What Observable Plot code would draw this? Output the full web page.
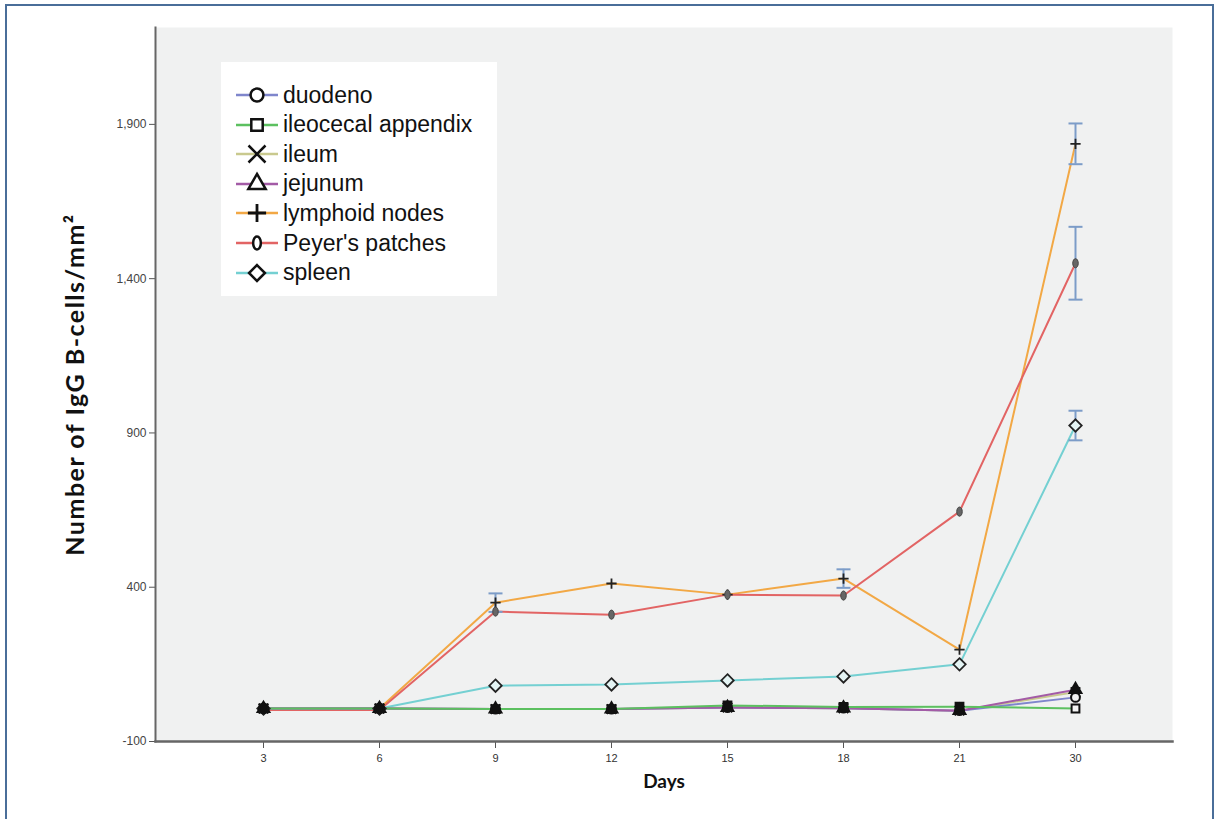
<!DOCTYPE html>
<html>
<head>
<meta charset="utf-8">
<script src="https://cdn.jsdelivr.net/npm/d3@7"></script>
<script src="https://cdn.jsdelivr.net/npm/@observablehq/plot@0.6"></script>
<style>
  html, body { margin: 0; padding: 0; background: #fff; }
  #wrap { position: relative; width: 1220px; height: 819px; overflow: hidden; }
  #border { position: absolute; left: 5px; top: 4px; width: 1209px; height: 830px; border: 2px solid #4a6e99; box-sizing: border-box; }
  #legend { position: absolute; left: 221px; top: 62px; width: 276px; height: 234px; background: #fff; }
  #legend .row { position: absolute; left: 0; height: 30px; display: flex; align-items: center; }
  #legend svg { display: block; }
  #legend span { font-family: "Liberation Sans", Arial, sans-serif; font-size: 23px; color: #111; margin-left: 3px; }
</style>
</head>
<body>
<div id="wrap">
  <div id="chart"></div>
  <div id="legend"></div>
  <div id="border"></div>
</div>
<script>
// ---- data ----
const days = ["3", "6", "9", "12", "15", "18", "21", "30"];
const seriesNames = ["duodeno", "ileocecal appendix", "ileum", "jejunum", "lymphoid nodes", "Peyer's patches", "spleen"];
const seriesColors = ["#7f86cc", "#5cc060", "#c9c98e", "#a35ba6", "#f2a845", "#e26464", "#74d0d2"];
const duodeno    = [7, 7, 5, 5, 10, 8, 0, 43];
const ileocecal  = [7, 7, 5, 5, 17, 12, 13, 7];
const ileum      = [7, 7, 5, 5, 10, 8, 0, 60];
const jejunum    = [7, 7, 5, 5, 10, 8, 0, 68];
const lymphoid   = [7, 7, 350, 412, 376, 428, 198, 1837];
const peyers     = [2, 2, 321, 311, 376, 373, 645, 1450];
const spleen     = [7, 7, 81, 85, 98, 111, 150, 924];
// error bars: [day, half-width]
const errLymphoid = [["9", 30], ["18", 30], ["30", 66]];
const errPeyers   = [["30", 118]];
const errSpleen   = [["30", 48]];
const yTicks = [-100, 400, 900, 1400, 1900];

const values = [duodeno, ileocecal, ileum, jejunum, lymphoid, peyers, spleen];
const rows = [];
seriesNames.forEach((s, i) => days.forEach((d, j) => rows.push({series: s, day: d, value: values[i][j]})));
const errRows = [];
[[errLymphoid, lymphoid, "lymphoid nodes"], [errPeyers, peyers, "Peyer's patches"], [errSpleen, spleen, "spleen"]].forEach(([errs, vals, s]) => {
  errs.forEach(([d, e]) => {
    const v = vals[days.indexOf(d)];
    errRows.push({series: s, day: d, lo: v - e, hi: v + e});
  });
});

// custom symbols
const capSymbol = {draw(ctx, size) { const r = Math.sqrt(size / Math.PI); ctx.moveTo(-r, 0); ctx.lineTo(r, 0); }};
const ellipseSymbol = {draw(ctx, size) {
  const r = Math.sqrt(size / Math.PI), rx = r * 0.6, ry = r, k = 0.5523;
  ctx.moveTo(0, -ry);
  ctx.bezierCurveTo(rx * k, -ry, rx, -ry * k, rx, 0);
  ctx.bezierCurveTo(rx, ry * k, rx * k, ry, 0, ry);
  ctx.bezierCurveTo(-rx * k, ry, -rx, ry * k, -rx, 0);
  ctx.bezierCurveTo(-rx, -ry * k, -rx * k, -ry, 0, -ry);
  ctx.closePath();
}};
const diamondSymbol = {draw(ctx, size) {
  const r = Math.sqrt(size / Math.PI) * 1.15;
  ctx.moveTo(0, -r); ctx.lineTo(r, 0); ctx.lineTo(0, r); ctx.lineTo(-r, 0); ctx.closePath();
}};
const seriesSymbols = {
  "duodeno": d3.symbolCircle, "ileocecal appendix": d3.symbolSquare, "ileum": d3.symbolTimes, "jejunum": d3.symbolTriangle,
  "lymphoid nodes": d3.symbolPlus, "Peyer's patches": ellipseSymbol, "spleen": diamondSymbol
};

const colorOf = Object.fromEntries(seriesNames.map((s, i) => [s, seriesColors[i]]));
const lowSeries = ["ileum", "duodeno", "jejunum", "ileocecal appendix"];

const fmt = d => d < 0 ? "-" + Math.abs(d) : d3.format(",")(d);
const last = days[days.length - 1];

const marks = [
  Plot.frame({fill: "#f0f1f1", stroke: null}),
  Plot.axisY({ticks: yTicks, tickFormat: fmt, tickSize: 6, tickPadding: 3, fontSize: 12, color: "#444", stroke: "#555", label: null}),
  Plot.axisX({tickSize: 7, tickPadding: 6, fontSize: 11, color: "#333", stroke: "#555", label: null}),
  Plot.frame({anchor: "left", stroke: "#666", strokeWidth: 2}),
  Plot.frame({anchor: "bottom", stroke: "#666", strokeWidth: 2.5}),
];
// lines
["lymphoid nodes", "Peyer's patches", "spleen", "ileum", "duodeno", "jejunum", "ileocecal appendix"].forEach(s => {
  marks.push(Plot.line(rows.filter(r => r.series === s), {x: "day", y: "value", stroke: colorOf[s], strokeWidth: 2}));
});
// error bars
marks.push(Plot.ruleX(errRows, {x: "day", y1: "lo", y2: "hi", stroke: "#7c9cc8", strokeWidth: 2}));
marks.push(Plot.dot(errRows, {x: "day", y: "lo", symbol: capSymbol, r: 7, stroke: "#7c9cc8", strokeWidth: 2}));
marks.push(Plot.dot(errRows, {x: "day", y: "hi", symbol: capSymbol, r: 7, stroke: "#7c9cc8", strokeWidth: 2}));
// markers
marks.push(Plot.dot(rows.filter(r => r.series === "lymphoid nodes"), {x: "day", y: "value", symbol: d3.symbolPlus, r: 3.4, stroke: "#222", strokeWidth: 1.8}));
marks.push(Plot.dot(rows.filter(r => r.series === "Peyer's patches"), {x: "day", y: "value", symbol: ellipseSymbol, r: 4.6, fill: "#666", stroke: "#444", strokeWidth: 1}));
marks.push(Plot.dot(rows.filter(r => r.series === "spleen"), {x: "day", y: "value", symbol: diamondSymbol, r: 5.4, fill: "#e4f4f4", stroke: "#222", strokeWidth: 1.8}));
lowSeries.forEach(s => {
  marks.push(Plot.dot(rows.filter(r => r.series === s), {
    x: "day", y: "value", symbol: seriesSymbols[s], r: 4.4, stroke: "#111", strokeWidth: 2,
    fill: r => (r.day !== last || s === "jejunum") ? "#111" : "#f4f4f4"
  }));
});
// axis titles
marks.push(Plot.text(["Number of IgG B-cells/mm²"], {frameAnchor: "left", dx: -80, rotate: -90, textAnchor: "middle", text: d => d, fontSize: 25, fontWeight: "bold", fill: "#111", fontFamily: "Lato, 'Open Sans', sans-serif"}));
marks.push(Plot.text(["Days"], {frameAnchor: "bottom", dy: 46, textAnchor: "middle", text: d => d, fontSize: 19, fontWeight: "bold", fill: "#111", fontFamily: "Lato, 'Open Sans', sans-serif"}));

const chart = Plot.plot({
  width: 1220, height: 819,
  marginTop: 27, marginBottom: 78, marginLeft: 155, marginRight: 48,
  style: {background: "transparent", fontFamily: "Liberation Sans, Arial, sans-serif"},
  x: {type: "point", domain: days, insetLeft: 108, insetRight: 97, padding: 0},
  y: {domain: [-100, 2214]},
  marks
});
document.getElementById("chart").appendChild(chart);
chart.querySelectorAll("text").forEach(t => { if (t.textContent === "Number of IgG B-cells/mm²") t.setAttribute("letter-spacing", "1.5"); });

// ---- legend ----
const legend = d3.select("#legend");
seriesNames.forEach((s, i) => {
  const row = legend.append("div").attr("class", "row").style("top", (18 + i * 29.6) + "px").style("left", "13px");
  const svg = row.append("svg").attr("width", 46).attr("height", 30);
  svg.append("line").attr("x1", 2).attr("x2", 44).attr("y1", 15).attr("y2", 15).attr("stroke", seriesColors[i]).attr("stroke-width", 2.5);
  const sym = seriesSymbols[s];
  const size = s === "lymphoid nodes" ? 110 : s === "ileum" ? 190 : s === "spleen" ? 150 : 130;
  svg.append("path").attr("transform", "translate(23,15)").attr("d", d3.symbol(sym, size)())
    .attr("fill", "#fff").attr("stroke", "#111").attr("stroke-width", s === "lymphoid nodes" ? 2.8 : 2.5);
  row.append("span").text(s);
});
</script>
</body>
</html>
